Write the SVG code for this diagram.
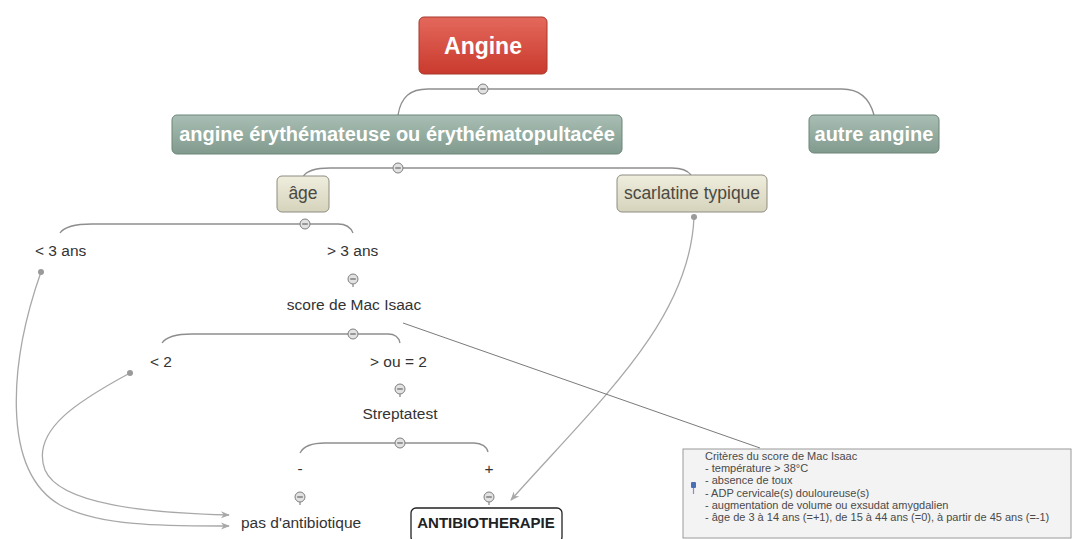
<svg xmlns="http://www.w3.org/2000/svg" width="1073" height="539" viewBox="0 0 1073 539">
<style>
.bg{fill:#ffffff}
.ln{fill:none;stroke:#8e8e8e;stroke-width:1.3}
.rel{fill:none;stroke:#a8a8a8;stroke-width:1.3}
.note{fill:none;stroke:#7a7a7a;stroke-width:1}
.t{font-family:"Liberation Sans",Arial,sans-serif;font-size:15.5px;fill:#333333}
.wb{font-family:"Liberation Sans",Arial,sans-serif;font-weight:bold;fill:#ffffff}
.bt{font-family:"Liberation Sans",Arial,sans-serif;font-size:17.5px;fill:#4a4a42}
.ct{font-family:"Liberation Sans",Arial,sans-serif;font-size:11px;fill:#4a4a4a}
.dot{fill:#9a9a9a}
</style>
<defs>
<linearGradient id="gRed" x1="0" y1="0" x2="0" y2="1">
<stop offset="0" stop-color="#e4685c"/><stop offset="1" stop-color="#c93a2d"/>
</linearGradient>
<linearGradient id="gGreen" x1="0" y1="0" x2="0" y2="1">
<stop offset="0" stop-color="#a9beb4"/><stop offset="1" stop-color="#819a8e"/>
</linearGradient>
<linearGradient id="gBeige" x1="0" y1="0" x2="0" y2="1">
<stop offset="0" stop-color="#efeddd"/><stop offset="1" stop-color="#d6d3bc"/>
</linearGradient>
<g id="col">
<circle cx="0" cy="0" r="5" fill="#e2e2e2" stroke="#7e7e7e" stroke-width="1"/>
<line x1="-2.8" y1="0" x2="2.8" y2="0" stroke="#666" stroke-width="1.2"/>
</g>
<marker id="arr" viewBox="0 0 10 10" refX="9" refY="5" markerWidth="9" markerHeight="9" orient="auto" markerUnits="userSpaceOnUse">
<path d="M0,1 L10,5 L0,9 L3,5 Z" fill="#a8a8a8"/>
</marker>
</defs>
<rect class="bg" x="0" y="0" width="1073" height="539"/>

<g id="connectors">
<path class="ln" d="M398,115 C401,97 410,89 428,89 L842,89 C860,89 870,100 874,115"/>
<path class="ln" d="M303,177 C306,171 314,168 330,168 L672,168 C682,168 688,171 691,175"/>
<path class="ln" d="M60,233 C64,227 74,224 92,224 L338,224 C346,224 351,228 353,233"/>
<path class="ln" d="M162,343 C166,337 175,334 192,334 L388,334 C395,334 399,338 400,343"/>
<path class="ln" d="M300,453 C303,447 310,443 325,443 L474,443 C482,443 487,447 488,452"/>
<line class="ln" x1="353" y1="284" x2="353" y2="287"/>
<line class="ln" x1="400" y1="394" x2="400" y2="397"/>
<line class="ln" x1="300" y1="502" x2="300" y2="505"/>
<line class="ln" x1="489" y1="502" x2="489" y2="505"/>
<path class="rel" d="M41,272 C10,360 0,470 60,505 C100,527 170,526 229,526" marker-end="url(#arr)"/>
<path class="rel" d="M130,373 C80,400 30,430 45,470 C60,505 150,513 229,515" marker-end="url(#arr)"/>
<path class="rel" d="M694,217 C690,320 600,400 511,500" marker-end="url(#arr)"/>
<line class="note" x1="403" y1="323" x2="760" y2="448"/>
<circle class="dot" cx="41" cy="272" r="3"/>
<circle class="dot" cx="130" cy="373" r="3"/>
<circle class="dot" cx="694" cy="217" r="3"/>
<use href="#col" x="483" y="89"/>
<use href="#col" x="398" y="168"/>
<use href="#col" x="305" y="224"/>
<use href="#col" x="353" y="279"/>
<use href="#col" x="353" y="334"/>
<use href="#col" x="400" y="389"/>
<use href="#col" x="400" y="443"/>
<use href="#col" x="300" y="497"/>
<use href="#col" x="489" y="497"/>
</g>

<g id="n-angine">
<rect x="419" y="17" width="128" height="57" rx="5" fill="url(#gRed)" stroke="#a8382c" stroke-width="1"/>
<text class="wb" x="483" y="54" font-size="23" text-anchor="middle">Angine</text>
</g>
<g id="n-erythem">
<rect x="172" y="115" width="450" height="39" rx="5" fill="url(#gGreen)" stroke="#6d8579" stroke-width="1"/>
<text class="wb" x="397" y="141" font-size="20" text-anchor="middle">angine érythémateuse ou érythématopultacée</text>
</g>
<g id="n-autre">
<rect x="809" y="115" width="130" height="38" rx="5" fill="url(#gGreen)" stroke="#6d8579" stroke-width="1"/>
<text class="wb" x="874" y="141" font-size="20" text-anchor="middle">autre angine</text>
</g>
<g id="n-age">
<rect x="277" y="176" width="52" height="36" rx="5" fill="url(#gBeige)" stroke="#8e8c80" stroke-width="1"/>
<text class="bt" x="303" y="199" text-anchor="middle">âge</text>
</g>
<g id="n-scarlatine">
<rect x="617" y="175" width="150" height="37" rx="5" fill="url(#gBeige)" stroke="#8e8c80" stroke-width="1"/>
<text class="bt" x="692" y="199" text-anchor="middle">scarlatine typique</text>
</g>
<g id="n-moins3"><text class="t" x="35" y="256">&lt; 3 ans</text></g>
<g id="n-plus3"><text class="t" x="327" y="256">&gt; 3 ans</text></g>
<g id="n-score"><text class="t" x="354" y="310" text-anchor="middle">score de Mac Isaac</text></g>
<g id="n-inf2"><text class="t" x="150" y="367">&lt; 2</text></g>
<g id="n-sup2"><text class="t" x="370" y="367">&gt; ou = 2</text></g>
<g id="n-strepta"><text class="t" x="400" y="419" text-anchor="middle">Streptatest</text></g>
<g id="n-neg"><text class="t" x="300" y="474" text-anchor="middle">-</text></g>
<g id="n-pos"><text class="t" x="489" y="474" text-anchor="middle">+</text></g>
<g id="n-pasatb"><text class="t" x="241" y="528" font-size="15">pas d'antibiotique</text></g>
<g id="n-atb">
<rect x="411" y="508" width="151" height="34" rx="5" fill="#ffffff" stroke="#222222" stroke-width="1.3"/>
<text class="wb" x="486" y="528" font-size="15" style="fill:#222222" text-anchor="middle">ANTIBIOTHERAPIE</text>
</g>
<g id="n-note">
<rect x="683" y="449" width="388" height="89" fill="#f3f3f3" stroke="#9a9a9a" stroke-width="1"/>
<rect x="691" y="482" width="5" height="6" rx="1" fill="#4a6fb5"/>
<line x1="693.5" y1="488" x2="693.5" y2="494" stroke="#7a93c8" stroke-width="1.2"/>
<text class="ct" x="705" y="460">Critères du score de Mac Isaac</text>
<text class="ct" x="705" y="472">- température &gt; 38°C</text>
<text class="ct" x="705" y="484">- absence de toux</text>
<text class="ct" x="705" y="497">- ADP cervicale(s) douloureuse(s)</text>
<text class="ct" x="705" y="509">- augmentation de volume ou exsudat amygdalien</text>
<text class="ct" x="705" y="521">- âge de 3 à 14 ans (=+1), de 15 à 44 ans (=0), à partir de 45 ans (=-1)</text>
</g>
</svg>
